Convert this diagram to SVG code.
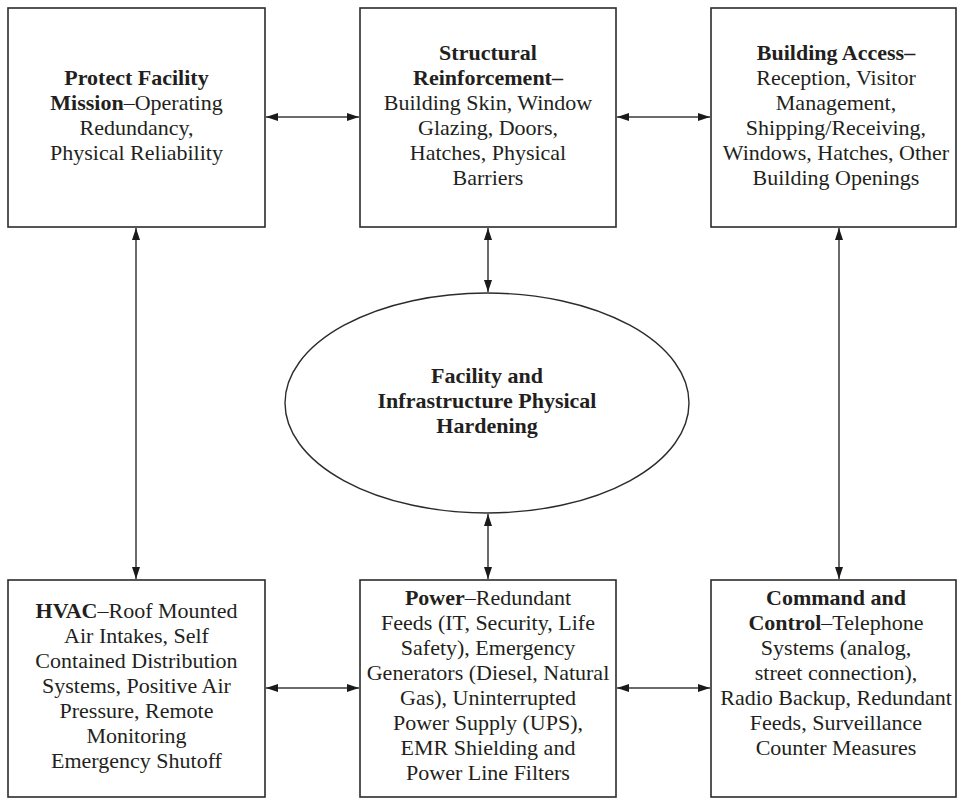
<svg xmlns="http://www.w3.org/2000/svg" width="963" height="800" viewBox="0 0 963 800">
  <style>
    .box { fill: #fff; stroke: #2b2b2b; stroke-width: 1.6; }
    .hub { fill: #fff; stroke: #2b2b2b; stroke-width: 1.4; }
    .lbl { font-family: "Liberation Serif", "Times New Roman", serif; font-size: 22px; fill: #231f20; text-anchor: middle; }
    .b { font-weight: bold; }
    .link { stroke: #3a3a3a; stroke-width: 1.5; fill: none; marker-start: url(#head); marker-end: url(#head); }
  </style>
  <defs>
    <marker id="head" viewBox="0 0 12 8" refX="12" refY="4" markerWidth="12" markerHeight="8" markerUnits="userSpaceOnUse" orient="auto-start-reverse">
      <path d="M0,0 L12,4 L0,8 Z" fill="#1a1a1a"/>
    </marker>
  </defs>

  <rect width="963" height="800" fill="#fff"/>

  <g id="connectors">
    <line class="link" x1="266" y1="117" x2="359" y2="117"/>
    <line class="link" x1="617" y1="117" x2="710" y2="117"/>
    <line class="link" x1="266" y1="688" x2="359" y2="688"/>
    <line class="link" x1="617" y1="688" x2="710" y2="688"/>
    <line class="link" x1="136" y1="228" x2="136" y2="579"/>
    <line class="link" x1="488" y1="228" x2="488" y2="292"/>
    <line class="link" x1="488" y1="514" x2="488" y2="579"/>
    <line class="link" x1="839" y1="228" x2="839" y2="579"/>
  </g>

  <g id="protect-mission">
    <rect class="box" x="8" y="8" width="257" height="219"/>
    <text class="lbl" x="136.5" y="85"><tspan class="b">Protect Facility</tspan></text>
    <text class="lbl" x="136.5" y="110"><tspan class="b">Mission</tspan>–Operating</text>
    <text class="lbl" x="136.5" y="135">Redundancy,</text>
    <text class="lbl" x="136.5" y="160">Physical Reliability</text>
  </g>

  <g id="structural-reinforcement">
    <rect class="box" x="360" y="8" width="256" height="219"/>
    <text class="lbl" x="488" y="60"><tspan class="b">Structural</tspan></text>
    <text class="lbl" x="488" y="85"><tspan class="b">Reinforcement–</tspan></text>
    <text class="lbl" x="488" y="110">Building Skin, Window</text>
    <text class="lbl" x="488" y="135">Glazing, Doors,</text>
    <text class="lbl" x="488" y="160">Hatches, Physical</text>
    <text class="lbl" x="488" y="185">Barriers</text>
  </g>

  <g id="building-access">
    <rect class="box" x="711" y="8" width="245" height="219"/>
    <text class="lbl" x="836" y="60"><tspan class="b">Building Access–</tspan></text>
    <text class="lbl" x="836" y="85">Reception, Visitor</text>
    <text class="lbl" x="836" y="110">Management,</text>
    <text class="lbl" x="836" y="135">Shipping/Receiving,</text>
    <text class="lbl" x="836" y="160">Windows, Hatches, Other</text>
    <text class="lbl" x="836" y="185">Building Openings</text>
  </g>

  <g id="physical-hardening">
    <ellipse class="hub" cx="487" cy="403" rx="202" ry="110"/>
    <text class="lbl b" x="487" y="383">Facility and</text>
    <text class="lbl b" x="487" y="408">Infrastructure Physical</text>
    <text class="lbl b" x="487" y="433">Hardening</text>
  </g>

  <g id="hvac">
    <rect class="box" x="8" y="580" width="257" height="217"/>
    <text class="lbl" x="136.5" y="618"><tspan class="b">HVAC</tspan>–Roof Mounted</text>
    <text class="lbl" x="136.5" y="643">Air Intakes, Self</text>
    <text class="lbl" x="136.5" y="668">Contained Distribution</text>
    <text class="lbl" x="136.5" y="693">Systems, Positive Air</text>
    <text class="lbl" x="136.5" y="718">Pressure, Remote</text>
    <text class="lbl" x="136.5" y="743">Monitoring</text>
    <text class="lbl" x="136.5" y="768">Emergency Shutoff</text>
  </g>

  <g id="power">
    <rect class="box" x="360" y="580" width="256" height="217"/>
    <text class="lbl" x="488" y="605"><tspan class="b">Power</tspan>–Redundant</text>
    <text class="lbl" x="488" y="630">Feeds (IT, Security, Life</text>
    <text class="lbl" x="488" y="655">Safety), Emergency</text>
    <text class="lbl" x="488" y="680">Generators (Diesel, Natural</text>
    <text class="lbl" x="488" y="705">Gas), Uninterrupted</text>
    <text class="lbl" x="488" y="730">Power Supply (UPS),</text>
    <text class="lbl" x="488" y="755">EMR Shielding and</text>
    <text class="lbl" x="488" y="780">Power Line Filters</text>
  </g>

  <g id="command-control">
    <rect class="box" x="711" y="580" width="245" height="217"/>
    <text class="lbl" x="836" y="605"><tspan class="b">Command and</tspan></text>
    <text class="lbl" x="836" y="630"><tspan class="b">Control</tspan>–Telephone</text>
    <text class="lbl" x="836" y="655">Systems (analog,</text>
    <text class="lbl" x="836" y="680">street connection),</text>
    <text class="lbl" x="836" y="705">Radio Backup, Redundant</text>
    <text class="lbl" x="836" y="730">Feeds, Surveillance</text>
    <text class="lbl" x="836" y="755">Counter Measures</text>
  </g>
</svg>
